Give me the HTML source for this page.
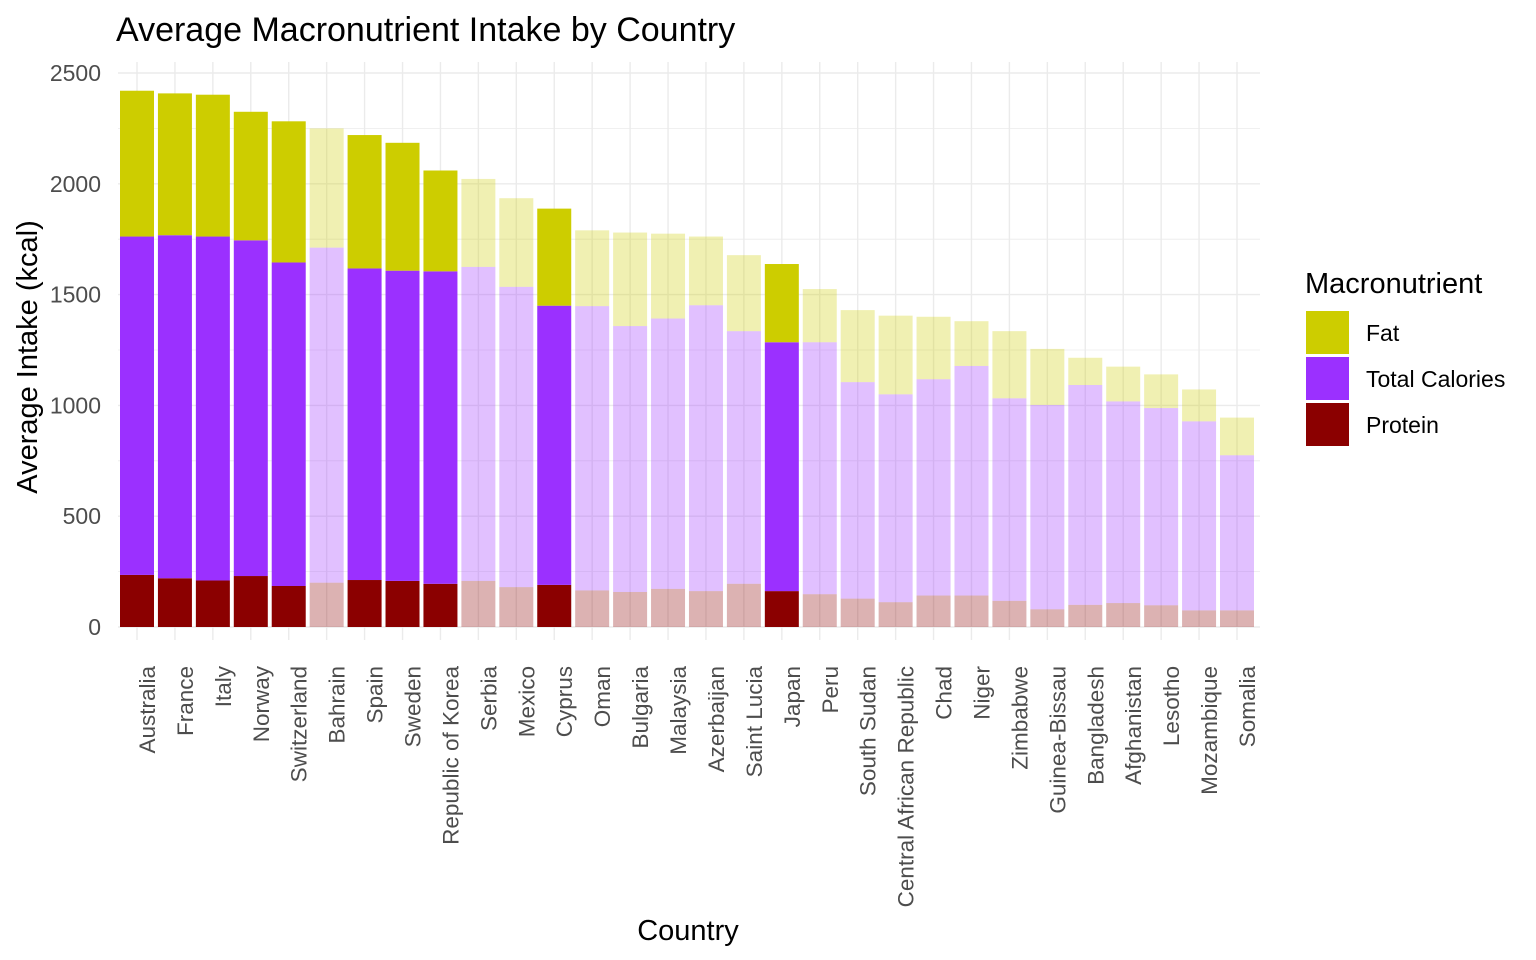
<!DOCTYPE html>
<html><head><meta charset="utf-8"><style>
body{margin:0;background:#fff;font-family:"Liberation Sans",Arial,sans-serif}
svg{display:block}
</style></head><body>
<svg id="chart" width="1536" height="960" xmlns="http://www.w3.org/2000/svg">
<text x="116" y="41" font-size="34" fill="#000">Average Macronutrient Intake by Country</text>
<text transform="translate(37,357) rotate(-90)" text-anchor="middle" font-size="29" fill="#000">Average Intake (kcal)</text>
<text x="688" y="940" text-anchor="middle" font-size="29" fill="#000">Country</text>
<g id="grid"></g><g id="bars"></g><g id="ticks"></g>
<g>
<text x="1305" y="293" font-size="29" fill="#000">Macronutrient</text>
<rect x="1306" y="311" width="43" height="43" fill="#CDCD00"/>
<text x="1366" y="341" font-size="23" fill="#000">Fat</text>
<rect x="1306" y="357" width="43" height="43" fill="#9B30FF"/>
<text x="1366" y="387" font-size="23" fill="#000">Total Calories</text>
<rect x="1306" y="403" width="43" height="43" fill="#8B0000"/>
<text x="1366" y="433" font-size="23" fill="#000">Protein</text>
</g>
</svg>
<script>
const countries=["Australia","France","Italy","Norway","Switzerland","Bahrain","Spain","Sweden","Republic of Korea","Serbia","Mexico","Cyprus","Oman","Bulgaria","Malaysia","Azerbaijan","Saint Lucia","Japan","Peru","South Sudan","Central African Republic","Chad","Niger","Zimbabwe","Guinea-Bissau","Bangladesh","Afghanistan","Lesotho","Mozambique","Somalia"];
const protein=[235,220,210,230,185,200,212,208,195,208,180,190,165,158,172,162,195,162,148,128,112,142,142,118,80,100,108,98,75,75];
const calories=[1527,1548,1552,1515,1460,1512,1406,1400,1410,1417,1355,1260,1283,1200,1220,1290,1140,1123,1137,977,938,976,1036,914,922,992,910,890,853,700];
const fat=[658,640,640,580,637,538,602,577,455,397,400,438,342,422,383,310,343,353,240,325,355,282,202,303,253,123,157,152,144,170];
const highlighted=[1,1,1,1,1,0,1,1,1,0,0,1,0,0,0,0,0,1,0,0,0,0,0,0,0,0,0,0,0,0];
const yTicks=[0,500,1000,1500,2000,2500];
const NS="http://www.w3.org/2000/svg";
const y0=627,ppu=554/2500,x0=137,step=(1237-137)/29,bw=34;
const Y=v=>y0-v*ppu, X=i=>x0+i*step;
const mk=(t,a,p)=>{const e=document.createElementNS(NS,t);for(const k in a)e.setAttribute(k,a[k]);p.appendChild(e);return e;};
const grid=document.getElementById('grid'),bars=document.getElementById('bars'),ticks=document.getElementById('ticks');
for(let v=0;v<=2500;v+=250){const g=mk('line',{x1:118,x2:1260,y1:Y(v),y2:Y(v),stroke:'#ebebeb','stroke-width':v%500?0.8:1.4},grid);

}
countries.forEach((c,i)=>{const g=mk('line',{x1:X(i),x2:X(i),y1:62,y2:640,stroke:'#ebebeb','stroke-width':1.4},grid);

});
yTicks.forEach(v=>{const t=mk('text',{x:101,y:Y(v)+8,'text-anchor':'end','font-size':23,fill:'#4d4d4d'},ticks);t.textContent=v;

});
countries.forEach((c,i)=>{
 const op=highlighted[i]?1:0.3;
 const segs=[[protein[i],'#8B0000','protein'],[calories[i],'#9B30FF','calories'],[fat[i],'#CDCD00','fat']];
 let base=0;
 segs.forEach(s=>{const r=mk('rect',{x:X(i)-bw/2,y:Y(base+s[0]),width:bw,height:s[0]*ppu,fill:s[1],'fill-opacity':op},bars);
 
 
 base+=s[0];});
 const t=mk('text',{transform:`translate(${X(i)+18},666) rotate(-90)`,'text-anchor':'end','font-size':22.5,fill:'#4d4d4d'},ticks);t.textContent=c;
 
 
});
</script>
</body></html>
